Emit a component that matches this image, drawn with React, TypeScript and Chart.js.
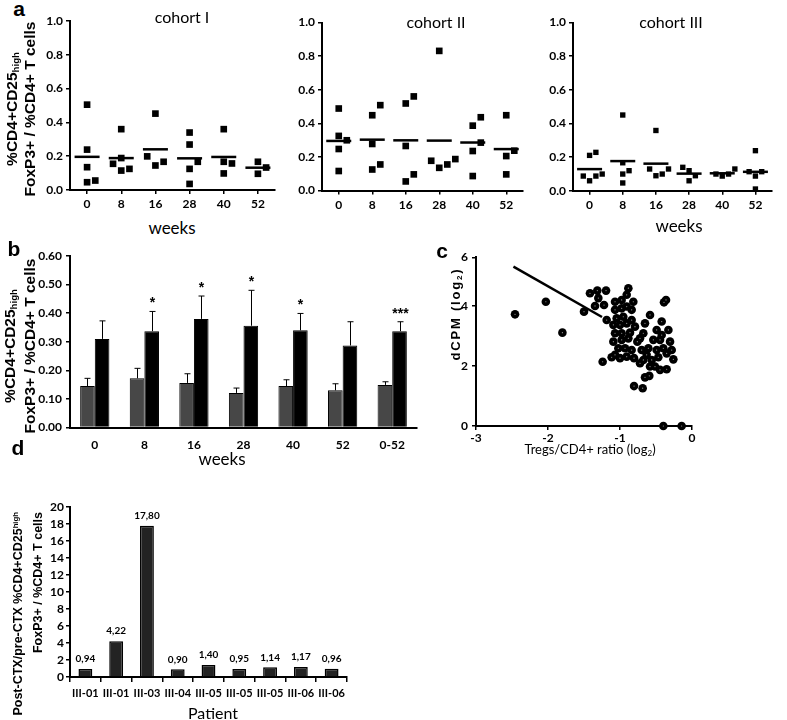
import React, { useEffect, useRef } from "react";
import { Chart, registerables } from "chart.js";

Chart.register(...registerables);

const SANS = "Lato, 'Open Sans', 'DejaVu Sans', sans-serif";
const BOLD = "'Liberation Sans', Arial, Helvetica, sans-serif";

// ---------------- panel a data ----------------
const weeks = ["0", "8", "16", "28", "40", "52"];
const cohortI: number[][] = [
  [0.505, 0.239, 0.135, 0.056, 0.046],
  [0.36, 0.189, 0.155, 0.125, 0.115],
  [0.452, 0.199, 0.167, 0.145],
  [0.34, 0.269, 0.167, 0.125, 0.036],
  [0.36, 0.167, 0.157, 0.098],
  [0.167, 0.133, 0.096],
];
const cohortII: number[][] = [
  [0.488, 0.325, 0.299, 0.247, 0.116],
  [0.508, 0.448, 0.277, 0.155, 0.125],
  [0.56, 0.518, 0.265, 0.096, 0.054],
  [0.831, 0.187, 0.177, 0.155, 0.135],
  [0.436, 0.386, 0.285, 0.235, 0.086],
  [0.448, 0.237, 0.205, 0.096],
];
const cohortIII: number[][] = [
  [0.228, 0.21, 0.099, 0.087, 0.087, 0.059],
  [0.45, 0.166, 0.119, 0.099, 0.046],
  [0.358, 0.129, 0.129, 0.099, 0.089],
  [0.139, 0.119, 0.089, 0.059],
  [0.129, 0.099, 0.099, 0.087],
  [0.238, 0.113, 0.113, 0.087, 0.01],
];
const aYTicks = [0, 0.2, 0.4, 0.6, 0.8, 1.0];

// ---------------- panel b data ----------------
const bWeeks = ["0", "8", "16", "28", "40", "52", "0-52"];
const bGray = [0.145, 0.172, 0.156, 0.121, 0.145, 0.13, 0.149];
const bGrayErr = [0.027, 0.035, 0.032, 0.017, 0.022, 0.023, 0.011];
const bBlack = [0.31, 0.337, 0.38, 0.356, 0.34, 0.287, 0.337];
const bBlackErr = [0.063, 0.069, 0.08, 0.124, 0.059, 0.083, 0.033];
const bStars = ["", "*", "*", "*", "*", "", "***"];

// ---------------- panel c data ----------------
const cX = [
  -2.458, -2.03, -1.8, -1.417, -1.315, -1.194, -1.301, -1.347, -1.222, -1.5,
  -1.185, -0.884, -0.907, -1.069, -0.977, -0.815, -1.069, -0.977, -0.907, -0.838,
  -1.046, -0.954, -0.838, -1.092, -1.0, -0.907, -1.069, -0.977, -0.884, -1.092,
  -1.023, -1.069, -1.116, -1.0, -0.907, -0.838, -0.805, -0.722, -0.759, -0.676,
  -0.653, -0.699, -0.583, -0.63, -0.606, -0.56, -0.491, -0.421, -0.389, -0.361,
  -0.328, -0.444, -0.398, -0.305, -0.282, -0.352, -0.259, -0.468, -0.514, -0.444,
  -0.352, -0.593, -0.653, -0.805, -0.685, -1.241, -0.398, -0.144, -0.861, -0.722,
  -0.792, -0.537, -0.491, -0.421, -0.977, -0.93, -0.676, -0.583,
];
const cY = [
  3.72, 4.14, 3.11, 4.42, 4.51, 4.51, 4.26, 4.0, 4.03, 3.81,
  3.53, 4.59, 4.37, 4.14, 4.2, 4.14, 3.87, 3.92, 3.98, 3.87,
  3.59, 3.64, 3.53, 3.37, 3.37, 3.42, 3.09, 3.09, 2.92, 2.81,
  2.59, 2.37, 2.29, 2.26, 2.31, 2.53, 2.26, 2.09, 2.81, 3.09,
  3.42, 2.53, 3.7, 2.37, 2.59, 2.2, 3.2, 3.48, 4.12, 4.2,
  3.2, 2.87, 2.59, 2.81, 2.53, 2.42, 2.22, 2.29, 1.98, 1.87,
  1.89, 1.67, 1.62, 1.33, 1.26, 2.14, 0.0, 0.0, 3.11, 2.92,
  3.31, 2.87, 2.53, 3.03, 2.87, 2.59, 2.2, 1.98,
];
const cFitX = [-2.48, -1.25];
const cFitY = [5.31, 3.63];
const cXTicks = [-3, -2, -1, 0];
const cYTicks = [0, 2, 4];
const cYMax = 5.62;
const cYTopLabel = "6";

// ---------------- panel d data ----------------
const patients = ["III-01", "III-01", "III-03", "III-04", "III-05", "III-05", "III-05", "III-06", "III-06"];
const ratio = [0.94, 4.22, 17.8, 0.9, 1.4, 0.95, 1.14, 1.17, 0.96];

// ---------------- helpers ----------------
type Box = { left: number; top: number; width: number; height: number };
type Area = { l: number; t: number; r: number; b: number };

function frame(box: Box, area: Area) {
  return {
    padding: { left: 0, top: area.t - box.top, right: box.left + box.width - area.r, bottom: 0 },
    yW: area.l - box.left,
    xH: box.top + box.height - area.b,
  };
}

function scaleStyle(fr: any, horizontal: boolean, o: any = {}) {
  const tickLen = o.tickLen ?? 4;
  const ticks: any = {
    color: "#000",
    padding: o.pad ?? 3,
    font: { family: SANS, size: o.size ?? 12, weight: "bold" },
    autoSkip: false,
    maxRotation: 0,
  };
  if (o.callback) ticks.callback = o.callback;
  if (o.stepSize) ticks.stepSize = o.stepSize;
  const grid: any = {
    display: o.showTicks ?? true,
    drawOnChartArea: false,
    drawTicks: true,
    tickLength: tickLen,
    color: "#000",
    lineWidth: 1.5,
  };
  if (o.gridOffset !== undefined) grid.offset = o.gridOffset;
  return {
    border: { display: true, color: "#000", width: 2 },
    grid,
    ticks,
    afterFit: horizontal
      ? (s: any) => {
          s.height = fr.xH;
        }
      : (s: any) => {
          s.width = fr.yW;
        },
  };
}

const baseOpts = (fr: any) => ({
  animation: false as const,
  responsive: false,
  layout: { padding: fr.padding },
  plugins: { legend: { display: false }, tooltip: { enabled: false } },
});

function makeCohort(canvas: HTMLCanvasElement, box: Box, area: Area, values: number[][], step: number, deltaPx: number, markerR: number) {
  const fr = frame(box, area);
  const delta = deltaPx / (area.b - area.t);
  const pts: { x: number; y: number }[] = [];
  values.forEach((arr, wi) => {
    const placed: { o: number; v: number }[] = [];
    [...arr]
      .sort((a, b) => a - b)
      .forEach((v) => {
        for (const o of [0, 1, -1, 2, -2, 3, -3]) {
          if (!placed.some((p) => p.o === o && Math.abs(p.v - v) < delta)) {
            placed.push({ o, v });
            break;
          }
        }
      });
    placed.forEach((p) => pts.push({ x: wi + p.o * step, y: p.v }));
  });
  const means = values.map((arr, wi) => ({ x: wi, y: arr.reduce((s, v) => s + v, 0) / arr.length }));
  const xs: any = scaleStyle(fr, true, { pad: 3, callback: (v: number) => weeks[v] });
  const ys: any = scaleStyle(fr, false, { pad: 3, callback: (v: number) => v.toFixed(1) });
  return new Chart(canvas, {
    type: "scatter",
    data: {
      datasets: [
        { data: means, pointStyle: "line", pointRadius: 12.5, borderColor: "#000", borderWidth: 2.5, clip: false } as any,
        { data: pts, pointStyle: "rect", pointRadius: markerR, backgroundColor: "#000", borderWidth: 0, clip: false } as any,
      ],
    },
    options: {
      ...baseOpts(fr),
      scales: {
        x: {
          type: "linear",
          min: -0.5,
          max: 5.5,
          ...xs,
          afterBuildTicks: (s: any) => {
            s.ticks = weeks.map((_, i) => ({ value: i }));
          },
        },
        y: {
          type: "linear",
          min: 0,
          max: 1,
          ...ys,
          afterBuildTicks: (s: any) => {
            s.ticks = aYTicks.map((v) => ({ value: v }));
          },
        },
      },
    } as any,
  });
}

const errorBarPlugin = {
  id: "errbars",
  afterDatasetsDraw(chart: any) {
    const ctx = chart.ctx;
    const y = chart.scales.y;
    chart.data.datasets.forEach((ds: any, di: number) => {
      if (!ds.errors) return;
      const meta = chart.getDatasetMeta(di);
      meta.data.forEach((el: any, i: number) => {
        const top = y.getPixelForValue(ds.data[i] + ds.errors[i]);
        const x = Math.round(el.x) + 0.5;
        ctx.save();
        ctx.strokeStyle = "#000";
        ctx.lineWidth = 1;
        ctx.beginPath();
        ctx.moveTo(x, el.y);
        ctx.lineTo(x, top);
        ctx.moveTo(x - 3, top);
        ctx.lineTo(x + 3, top);
        ctx.stroke();
        if (ds.stars && ds.stars[i]) {
          ctx.fillStyle = "#000";
          ctx.font = `bold 14px ${BOLD}`;
          ctx.textAlign = "center";
          ctx.textBaseline = "top";
          ctx.fillText(ds.stars[i], x, top - 15);
        }
        ctx.restore();
      });
    });
  },
};

const valueLabelPlugin = {
  id: "vlabels",
  afterDatasetsDraw(chart: any) {
    const ctx = chart.ctx;
    const ds = chart.data.datasets[0];
    const meta = chart.getDatasetMeta(0);
    meta.data.forEach((el: any, i: number) => {
      ctx.save();
      ctx.fillStyle = "#000";
      ctx.font = `bold 10px ${SANS}`;
      ctx.textAlign = "center";
      ctx.textBaseline = "middle";
      ctx.fillText(ds.data[i].toFixed(2).replace(".", ","), el.x, el.y - 10);
      ctx.restore();
    });
  },
};

function makeB(canvas: HTMLCanvasElement, box: Box, area: Area) {
  const fr = frame(box, area);
  const xs: any = scaleStyle(fr, true, { pad: 6, showTicks: false });
  const ys: any = scaleStyle(fr, false, { pad: 4, stepSize: 0.1, callback: (v: number) => v.toFixed(2) });
  return new Chart(canvas, {
    type: "bar",
    data: {
      labels: bWeeks,
      datasets: [
        { data: bGray, backgroundColor: "#474747", borderColor: "#000", borderWidth: 1, errors: bGrayErr } as any,
        { data: bBlack, backgroundColor: "#000", borderColor: "#000", borderWidth: 1, errors: bBlackErr, stars: bStars } as any,
      ],
    },
    options: {
      ...baseOpts(fr),
      datasets: { bar: { categoryPercentage: 0.59, barPercentage: 1 } },
      scales: {
        x: { type: "category", ...xs },
        y: { type: "linear", min: 0, max: 0.6, ...ys },
      },
    } as any,
    plugins: [errorBarPlugin],
  });
}

function makeC(canvas: HTMLCanvasElement, box: Box, area: Area) {
  const fr = frame(box, area);
  const pts = cX.map((x, i) => ({ x, y: cY[i] }));
  const fit = cFitX.map((x, i) => ({ x, y: cFitY[i] }));
  const xs: any = scaleStyle(fr, true, { pad: 1, callback: (v: number) => String(v) });
  const ys: any = scaleStyle(fr, false, { pad: 4, callback: (v: number) => (v >= cYMax ? cYTopLabel : String(v)) });
  return new Chart(canvas, {
    type: "scatter",
    data: {
      datasets: [
        { data: pts, pointRadius: 0.6, backgroundColor: "#9a9a9a", borderWidth: 0, clip: false } as any,
        { data: pts, pointRadius: 4.3, backgroundColor: "#000", borderWidth: 0, clip: false } as any,
        { type: "line", data: fit, borderColor: "#000", borderWidth: 2.5, pointRadius: 0, showLine: true, clip: false } as any,
      ],
    },
    options: {
      ...baseOpts(fr),
      scales: {
        x: {
          type: "linear",
          min: cXTicks[0],
          max: cXTicks[cXTicks.length - 1],
          ...xs,
          afterBuildTicks: (s: any) => {
            s.ticks = cXTicks.map((v) => ({ value: v }));
          },
        },
        y: {
          type: "linear",
          min: 0,
          max: cYMax,
          ...ys,
          afterBuildTicks: (s: any) => {
            s.ticks = [...cYTicks, cYMax].map((v) => ({ value: v }));
          },
        },
      },
    } as any,
  });
}

function makeD(canvas: HTMLCanvasElement, box: Box, area: Area) {
  const fr = frame(box, area);
  const xs: any = scaleStyle(fr, true, { pad: 5, tickLen: 5, size: 11, gridOffset: true });
  const ys: any = scaleStyle(fr, false, { pad: 2, stepSize: 2 });
  return new Chart(canvas, {
    type: "bar",
    data: {
      labels: patients,
      datasets: [
        { data: ratio, backgroundColor: "#232323", borderColor: "#000", borderWidth: 1.5, barPercentage: 0.45, categoryPercentage: 1 } as any,
      ],
    },
    options: {
      ...baseOpts(fr),
      scales: {
        x: { type: "category", ...xs },
        y: { type: "linear", min: 0, max: 20, ...ys },
      },
    } as any,
    plugins: [valueLabelPlugin],
  });
}

function ChartBox({ box, area, make }: { box: Box; area: Area; make: (c: HTMLCanvasElement, b: Box, a: Area) => Chart }) {
  const ref = useRef<HTMLCanvasElement>(null);
  useEffect(() => {
    const ch = make(ref.current!, box, area);
    return () => ch.destroy();
  }, []);
  return (
    <canvas
      ref={ref}
      width={box.width}
      height={box.height}
      style={{ position: "absolute", left: box.left, top: box.top, width: box.width, height: box.height }}
    />
  );
}

function T({ x, y, size, weight = 400, family = SANS, ls, children }: any) {
  return (
    <div
      style={{
        position: "absolute",
        left: x,
        top: y,
        transform: "translate(-50%,-50%)",
        fontFamily: family,
        fontSize: size,
        fontWeight: weight,
        lineHeight: 1,
        whiteSpace: "nowrap",
        color: "#000",
        letterSpacing: ls,
      }}
    >
      {children}
    </div>
  );
}

function V({ cx, cy, len, lh, size, align = "center", family = BOLD, weight = 700, ls, lines }: any) {
  const H = lines.length * lh;
  return (
    <div
      style={{
        position: "absolute",
        left: cx - len / 2,
        top: cy - H / 2,
        width: len,
        height: H,
        transform: "rotate(-90deg)",
        textAlign: align,
        fontFamily: family,
        fontSize: size,
        fontWeight: weight,
        lineHeight: lh + "px",
        whiteSpace: "nowrap",
        letterSpacing: ls,
        color: "#000",
      }}
    >
      {lines.map((l: any, i: number) => (
        <div key={i}>{l}</div>
      ))}
    </div>
  );
}

const Sub = ({ c }: any) => <span style={{ fontSize: "0.62em", position: "relative", top: "0.25em" }}>{c}</span>;
const Sup = ({ c }: any) => <span style={{ fontSize: "0.62em", position: "relative", top: "-0.5em" }}>{c}</span>;

export default function App() {
  return (
    <div style={{ position: "absolute", left: 0, top: 0, width: 787, height: 720, background: "#fff", overflow: "hidden" }}>
      <ChartBox
        box={{ left: 30, top: 0, width: 260, height: 215 }}
        area={{ l: 70, t: 21, r: 280, b: 190 }}
        make={(c, b, a) => makeCohort(c, b, a, cohortI, 0.24, 11, 4.7)}
      />
      <ChartBox
        box={{ left: 285, top: 0, width: 253, height: 215 }}
        area={{ l: 322, t: 22.5, r: 528, b: 190.5 }}
        make={(c, b, a) => makeCohort(c, b, a, cohortII, 0.24, 11, 4.7)}
      />
      <ChartBox
        box={{ left: 537, top: 0, width: 250, height: 215 }}
        area={{ l: 573, t: 22.5, r: 785, b: 190.7 }}
        make={(c, b, a) => makeCohort(c, b, a, cohortIII, 0.19, 8.5, 3.8)}
      />
      <ChartBox box={{ left: 20, top: 240, width: 410, height: 215 }} area={{ l: 70, t: 256, r: 417, b: 427.5 }} make={makeB} />
      <ChartBox box={{ left: 440, top: 240, width: 262, height: 210 }} area={{ l: 476, t: 257.3, r: 692, b: 426 }} make={makeC} />
      <ChartBox box={{ left: 20, top: 495, width: 340, height: 210 }} area={{ l: 70, t: 507, r: 347, b: 677 }} make={makeD} />

      <T x={19} y={8} size={21} weight={700} family={BOLD}>a</T>
      <T x={14} y={248} size={21} weight={700} family={BOLD}>b</T>
      <T x={442} y={250} size={21} weight={700} family={BOLD}>c</T>
      <T x={18} y={447} size={21} weight={700} family={BOLD}>d</T>

      <T x={182} y={17} size={16}>cohort I</T>
      <T x={436} y={22} size={16}>cohort II</T>
      <T x={671} y={22} size={16}>cohort III</T>
      <T x={172} y={227} size={17}>weeks</T>
      <T x={679} y={225} size={17}>weeks</T>
      <T x={222} y={458} size={17}>weeks</T>
      <T x={213} y={713} size={16}>Patient</T>
      <T x={590} y={449} size={13}>
        Tregs/CD4+ ratio (log<Sub c="2" />)
      </T>

      <V
        cx={20}
        cy={109}
        len={240}
        lh={16}
        size={15.5}
        lines={[
          <>
            %CD4+CD25<Sub c="high" />
          </>,
          "FoxP3+ / %CD4+ T cells",
        ]}
      />
      <V
        cx={19}
        cy={346}
        len={240}
        lh={18}
        size={15.5}
        lines={[
          <>
            %CD4+CD25<Sub c="high" />
          </>,
          "FoxP3+ / %CD4+ T cells",
        ]}
      />
      <V
        cx={28}
        cy={622}
        len={220}
        lh={19}
        size={12.5}
        align="right"
        lines={[
          <>
            Post-CTX/pre-CTX %CD4+CD25<Sup c="high" />
          </>,
          "FoxP3+ / %CD4+ T cells",
        ]}
      />
      <V
        cx={456}
        cy={314}
        len={120}
        lh={16}
        size={13}
        ls={1.8}
        lines={[
          <>
            dCPM (log<Sub c="2" />)
          </>,
        ]}
      />
    </div>
  );
}
